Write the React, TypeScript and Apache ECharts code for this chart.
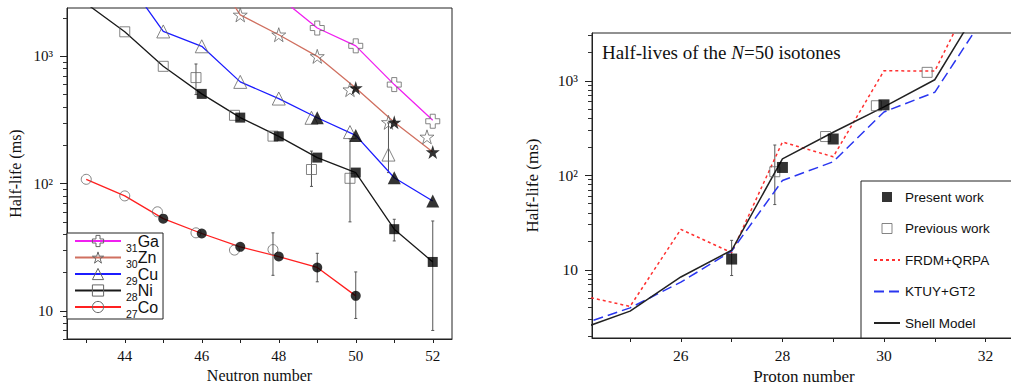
import React, { useEffect, useRef } from 'react';
import * as echarts from 'echarts';

const SERIF = '"Liberation Serif", "Times New Roman", serif';
const SANS = '"Liberation Sans", Arial, Helvetica, sans-serif';

// ---------- Left panel: half-lives vs neutron number ----------
const neutronTicks = [43, 44, 45, 46, 47, 48, 49, 50, 51, 52];
const neutronLabels = [44, 46, 48, 50, 52];

const gaLine = [[48, 2940], [49, 1670], [50, 1210], [51, 600], [52, 315]];
const gaPrevious = [[49, 1670], [50, 1210], [51, 600], [52, 309]];
const gaPresent: number[][] = [];

const znLine = [[46, 6100], [47, 2120], [48, 1480], [49, 1000], [50, 565], [51, 303], [52, 177]];
const znPrevious = [[47, 2120], [48, 1480], [49, 1000], [49.85, 548], [50.85, 303], [51.85, 233]];
const znPresent = [[50, 565], [51, 303], [52, 177]];

const cuLine = [[44, 4200], [45, 1570], [46, 1200], [47, 630], [48, 466], [49, 329], [50, 239], [51, 111], [52, 73]];
const cuPrevious = [[45, 1570], [46, 1200], [47, 630], [48, 466], [48.85, 329], [49.85, 254], [50.85, 169]];
const cuPresent = [[49, 329], [50, 239], [51, 111], [52, 73]];

const niLine = [[43, 2600], [44, 1560], [45, 835], [46, 507], [47, 330], [48, 235], [49, 160], [50, 122], [51, 43.8], [52, 24.2]];
const niPrevious = [[44, 1560], [45, 835], [45.85, 681], [46.85, 344], [47.85, 236], [48.85, 129], [49.85, 110]];
const niPresent = [[46, 507], [47, 330], [48, 235], [49, 160], [50, 122], [51, 43.8], [52, 24.2]];

const coLine = [[43, 108], [44, 80], [45, 53], [46, 40.5], [47, 31.8], [48, 26.7], [49, 21.9], [50, 13.1]];
const coPrevious = [[43, 108], [44, 80], [44.85, 60], [45.85, 41], [46.85, 30], [47.85, 30.3]];
const coPresent = [[45, 53], [46, 40.5], [47, 31.8], [48, 26.7], [49, 21.9], [50, 13.1]];

// [x, low, high]
const neutronErrors = [
  [45.85, 501, 871], [47.85, 19, 41], [49, 16.9, 28.3], [50, 8.7, 20.2],
  [48.85, 95, 180], [49.85, 50, 225], [50.85, 122, 300], [51, 35.4, 52.4], [52, 7.0, 50.8],
];

const elementNames = ['Ga', 'Zn', 'Cu', 'Ni', 'Co'];
const protonNumbers = ['31', '30', '29', '28', '27'];

// ---------- Right panel: N=50 isotones vs proton number ----------
const protonTicks = [25, 26, 27, 28, 29, 30, 31, 32];
const protonLabels = [26, 28, 30, 32];

const presentWork = [[27, 13.0], [28, 121], [29, 242], [30, 556]];
const previousWork = [[27.85, 109], [28.85, 257], [29.85, 544], [30.85, 1227]];
const protonErrors = [[27, 8.7, 20.5], [27.85, 49, 209]];
const frdmQrpa = [[24, 5.4], [25, 4.1], [26, 26.8], [27, 15.2], [28, 225], [29, 157], [30, 1276], [31, 1266], [32, 15000]];
const ktuyGt2 = [[24, 2.6], [25, 3.96], [26, 7.4], [27, 15.8], [28, 88], [29, 139], [30, 468], [31, 755], [32, 5000]];
const shellModel = [[24, 2.35], [25, 3.66], [26, 8.4], [27, 16.1], [28, 149], [29, 285], [30, 530], [31, 1025], [32, 7800]];

const majorTicks = [10, 100, 1000];
const majorLabels = ['10', '10²', '10³'];
const leftMinorTicks = [6, 7, 8, 9, 20, 30, 40, 50, 60, 70, 80, 90, 200, 300, 400, 500, 600, 700, 800, 900, 2000];
const rightMinorTicks = [2, 3, 4, 5, 6, 7, 8, 9, 20, 30, 40, 50, 60, 70, 80, 90, 200, 300, 400, 500, 600, 700, 800, 900, 2000, 3000];

const STAR = 'path://M50,0L61.2,34.5L97.6,34.5L68.2,55.9L79.4,90.5L50,69.1L20.6,90.5L31.8,55.9L2.4,34.5L38.8,34.5Z';
const CROSS = 'path://M32,0H68V32H100V68H68V100H32V68H0V32H32Z';
const SQUARE = 'path://M0,0H10V10H0Z';

const elementStyles = [
  { color: '#f020f0', symbol: CROSS, size: 14 },
  { color: '#d07060', symbol: STAR, size: 14 },
  { color: '#1c1cff', symbol: 'triangle', size: 13 },
  { color: '#1a1a1a', symbol: 'rect', size: 10 },
  { color: '#ff2020', symbol: 'circle', size: 10 },
];
const elementData = [
  [gaLine, gaPrevious, gaPresent],
  [znLine, znPrevious, znPresent],
  [cuLine, cuPrevious, cuPresent],
  [niLine, niPrevious, niPresent],
  [coLine, coPrevious, coPresent],
];

const OPEN = { color: 'transparent', borderColor: '#666', borderWidth: 1 };

function renderError(params: any, api: any) {
  const x = api.value(0);
  const a = api.coord([x, api.value(1)]);
  const b = api.coord([x, api.value(2)]);
  const style = { stroke: '#555', lineWidth: 1 };
  return {
    type: 'group',
    children: [
      { type: 'line', shape: { x1: a[0], y1: a[1], x2: b[0], y2: b[1] }, style },
      { type: 'line', shape: { x1: a[0] - 1.5, y1: a[1], x2: a[0] + 1.5, y2: a[1] }, style },
      { type: 'line', shape: { x1: b[0] - 1.5, y1: b[1], x2: b[0] + 1.5, y2: b[1] }, style },
    ],
  };
}

function xAxisCfg(grid: number, min: number, max: number, name: string, ticks: number[], labels: number[], gap: number, nameSize: number, labelSize: number) {
  return {
    gridIndex: grid, type: 'value', min, max, name, nameLocation: 'middle', nameGap: gap,
    nameTextStyle: { fontFamily: SERIF, fontSize: nameSize, color: '#111' },
    axisLine: { show: true, onZero: false, lineStyle: { color: '#222', width: 1 } },
    axisTick: { show: true, inside: false, length: 4, customValues: ticks, lineStyle: { color: '#222', width: 1 } },
    axisLabel: { show: true, customValues: labels, margin: 9, fontFamily: SERIF, fontSize: labelSize, color: '#111' },
    splitLine: { show: false },
  };
}

function yAxisCfg(grid: number, min: number, max: number, gap: number, nameSize: number, labelSize: number) {
  return {
    gridIndex: grid, type: 'log', logBase: 10, min, max, name: 'Half-life (ms)', nameLocation: 'middle', nameGap: gap,
    nameTextStyle: { fontFamily: SERIF, fontSize: nameSize, color: '#111' },
    axisLine: { show: true, onZero: false, lineStyle: { color: '#222', width: 1 } },
    axisTick: { show: true, inside: false, length: 7, customValues: majorTicks, lineStyle: { color: '#222', width: 1 } },
    axisLabel: {
      show: true, customValues: majorTicks, margin: 14, fontFamily: SERIF, fontSize: labelSize, color: '#111',
      formatter: (v: number) => majorLabels[majorTicks.findIndex((t) => Math.abs(t - v) < 1e-6 * t)] ?? '',
    },
    splitLine: { show: false },
  };
}

function yMinorCfg(grid: number, min: number, max: number, ticks: number[]) {
  return {
    gridIndex: grid, type: 'log', logBase: 10, min, max, position: 'left', offset: 0,
    axisLine: { show: false },
    axisTick: { show: true, inside: false, length: 4, customValues: ticks, lineStyle: { color: '#333', width: 1 } },
    axisLabel: { show: false },
    splitLine: { show: false },
  };
}

export default function App() {
  const ref = useRef<HTMLDivElement>(null);
  useEffect(() => {
    if (!ref.current) return;
    const chart = echarts.init(ref.current, undefined, { renderer: 'svg' });

    const series: any[] = [];
    elementNames.forEach((name, i) => {
      const st = elementStyles[i];
      const [line, prev, pres] = elementData[i];
      series.push({
        type: 'line', name, data: line, xAxisIndex: 0, yAxisIndex: 0, showSymbol: false,
        symbol: st.symbol, symbolSize: st.size, lineStyle: { color: st.color, width: 1.3 },
        itemStyle: { color: st.color }, z: 2, silent: true,
      });
      series.push({
        type: 'scatter', name: name + ' previous', data: prev, xAxisIndex: 0, yAxisIndex: 0,
        symbol: st.symbol, symbolSize: st.size, itemStyle: OPEN, z: 3, silent: true,
      });
      if (pres.length) {
        series.push({
          type: 'scatter', name: name + ' present', data: pres, xAxisIndex: 0, yAxisIndex: 0,
          symbol: st.symbol, symbolSize: st.size, itemStyle: { color: '#000' }, z: 4, silent: true,
        });
      }
    });
    series.push({
      type: 'custom', name: 'neutron errors', data: neutronErrors, xAxisIndex: 0, yAxisIndex: 0,
      encode: { x: 0, y: [1, 2] }, renderItem: renderError, z: 1, silent: true,
    });

    series.push({
      type: 'line', name: 'FRDM+QRPA', data: frdmQrpa, xAxisIndex: 1, yAxisIndex: 2, showSymbol: false, symbol: 'none',
      lineStyle: { color: '#ff3030', width: 1.5, type: [3, 3] }, itemStyle: { color: '#ff3030' }, z: 2, silent: true,
    });
    series.push({
      type: 'line', name: 'KTUY+GT2', data: ktuyGt2, xAxisIndex: 1, yAxisIndex: 2, showSymbol: false, symbol: 'none',
      lineStyle: { color: '#2a36f0', width: 1.5, type: [10, 5] }, itemStyle: { color: '#2a36f0' }, z: 2, silent: true,
    });
    series.push({
      type: 'line', name: 'Shell Model', data: shellModel, xAxisIndex: 1, yAxisIndex: 2, showSymbol: false, symbol: 'none',
      lineStyle: { color: '#222', width: 1.5 }, itemStyle: { color: '#222' }, z: 2, silent: true,
    });
    series.push({
      type: 'scatter', name: 'Previous work', data: previousWork, xAxisIndex: 1, yAxisIndex: 2,
      symbol: 'rect', symbolSize: 10, itemStyle: OPEN, z: 3, silent: true,
    });
    series.push({
      type: 'scatter', name: 'Present work', data: presentWork, xAxisIndex: 1, yAxisIndex: 2,
      symbol: 'rect', symbolSize: 11, itemStyle: { color: '#000' }, z: 4, silent: true,
    });
    series.push({
      type: 'custom', name: 'proton errors', data: protonErrors, xAxisIndex: 1, yAxisIndex: 2,
      encode: { x: 0, y: [1, 2] }, renderItem: renderError, z: 1, silent: true,
    });

    const option: any = {
      animation: false,
      backgroundColor: '#fff',
      textStyle: { fontFamily: SERIF },
      title: {
        text: 'Half-lives of the {i|N}=50 isotones', left: 602, top: 43, padding: 0,
        textStyle: {
          fontFamily: SERIF, fontSize: 19, fontWeight: 'normal', color: '#111',
          rich: { i: { fontFamily: SERIF, fontSize: 19, fontStyle: 'italic', color: '#111' } },
        },
      },
      grid: [
        { left: 67, top: 8, width: 385, height: 331, show: true, borderColor: '#222', borderWidth: 1, backgroundColor: 'transparent', containLabel: false, outerBoundsMode: 'none' },
        { left: 592, top: 33, width: 424, height: 305, show: true, borderColor: '#222', borderWidth: 1, backgroundColor: 'transparent', containLabel: false, outerBoundsMode: 'none' },
      ],
      xAxis: [
        xAxisCfg(0, 42.5, 52.5, 'Neutron number', neutronTicks, neutronLabels, 28, 16, 15),
        xAxisCfg(1, 24.25, 32.6, 'Proton number', protonTicks, protonLabels, 29, 17, 15.5),
      ],
      yAxis: [
        yAxisCfg(0, 6, 2400, 44, 16, 15),
        yMinorCfg(0, 6, 2400, leftMinorTicks),
        yAxisCfg(1, 1.9, 3200, 51, 17, 15.5),
        yMinorCfg(1, 1.9, 3200, rightMinorTicks),
      ],
      legend: [
        {
          data: elementNames.map((n) => ({ name: n, itemStyle: { ...OPEN } })),
          orient: 'vertical', left: 67, top: 233, itemWidth: 46, itemHeight: 14, itemGap: -3.5,
          padding: [0, 4, 0, 7], backgroundColor: '#fff', borderColor: '#222', borderWidth: 1, borderRadius: 0,
          selectedMode: false,
          formatter: (n: string) => `{s|${protonNumbers[elementNames.indexOf(n)]}}{e|${n}}`,
          textStyle: {
            fontFamily: SANS, fontSize: 16, color: '#111',
            rich: {
              s: { fontFamily: SANS, fontSize: 10.5, color: '#111', verticalAlign: 'bottom', lineHeight: 24 },
              e: { fontFamily: SANS, fontSize: 16, color: '#111' },
            },
          },
        },
        {
          data: [
            { name: 'Present work', icon: SQUARE, itemStyle: { color: '#000', borderWidth: 0 } },
            { name: 'Previous work', icon: SQUARE, itemStyle: { ...OPEN } },
            { name: 'FRDM+QRPA', itemStyle: { opacity: 0 } },
            { name: 'KTUY+GT2', itemStyle: { opacity: 0 } },
            { name: 'Shell Model', itemStyle: { opacity: 0 } },
          ],
          orient: 'vertical', left: 861, top: 181, itemWidth: 26, itemHeight: 10, itemGap: 17.5,
          padding: [9, 60, 8, 12], backgroundColor: '#fff', borderColor: '#222', borderWidth: 1, borderRadius: 0,
          selectedMode: false,
          textStyle: { fontFamily: SANS, fontSize: 13.5, color: '#111', lineHeight: 14 },
        },
      ],
      series,
    };
    chart.setOption(option);
    return () => chart.dispose();
  }, []);
  return <div ref={ref} style={{ position: 'absolute', left: 0, top: 0, width: 1011, height: 387 }} />;
}
